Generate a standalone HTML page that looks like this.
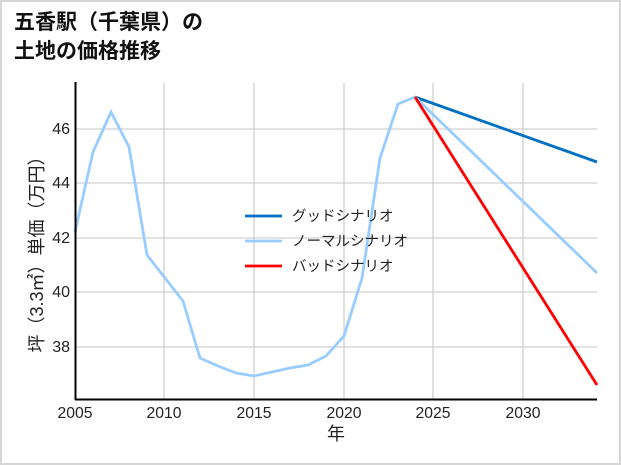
<!DOCTYPE html>
<html><head><meta charset="utf-8"><style>
body{margin:0;background:#fff}
.f{position:absolute;left:0;top:0;width:617px;height:461px;border:2px solid #d6d6d6;background:#fff}
</style></head><body>
<div class="f"></div>
<svg width="621" height="465" style="position:absolute;left:0;top:0" font-family="'Liberation Sans Narrow','Liberation Sans','Noto Sans CJK JP',sans-serif">
<text x="14" y="29" font-size="21" font-weight="bold" font-family="'Liberation Sans','Noto Sans CJK JP',sans-serif" fill="#111">五香駅（千葉県）の</text>
<text x="14" y="58" font-size="21" font-weight="bold" font-family="'Liberation Sans','Noto Sans CJK JP',sans-serif" fill="#111">土地の価格推移</text>
<g stroke="#d0d0d0" stroke-width="1.3">
<line x1="164" y1="83" x2="164" y2="400"/><line x1="254" y1="83" x2="254" y2="400"/><line x1="344" y1="83" x2="344" y2="400"/><line x1="433" y1="83" x2="433" y2="400"/><line x1="523" y1="83" x2="523" y2="400"/>
<line x1="75" y1="129" x2="597" y2="129"/><line x1="75" y1="183" x2="597" y2="183"/><line x1="75" y1="238" x2="597" y2="238"/><line x1="75" y1="292" x2="597" y2="292"/><line x1="75" y1="347" x2="597" y2="347"/>
</g>
<polyline fill="none" stroke="#99ccff" stroke-width="2.8" points="75,232 93,152 111,112 129,147 147,255 165,278 183,301 200,358 218,366 236,373 254,376 272,372 290,368 308,365 326,356 344,336 362,278 380,158 398,104 415,97"/>
<line x1="415" y1="97" x2="597" y2="162" stroke="#0070c0" stroke-width="2.8"/>
<line x1="415" y1="97" x2="597" y2="273" stroke="#99ccff" stroke-width="2.8"/>
<line x1="415" y1="97" x2="597" y2="385" stroke="#ff0000" stroke-width="2.8"/>
<line x1="75.5" y1="82" x2="75.5" y2="400" stroke="#000" stroke-width="2"/>
<line x1="75" y1="399.5" x2="597" y2="399.5" stroke="#000" stroke-width="2"/>
<g font-size="16" fill="#222" text-anchor="middle" transform="scale(1,1)">
<text x="75" y="418" textLength="35" lengthAdjust="spacingAndGlyphs">2005</text><text x="164" y="418" textLength="35" lengthAdjust="spacingAndGlyphs">2010</text><text x="254" y="418" textLength="35" lengthAdjust="spacingAndGlyphs">2015</text><text x="344" y="418" textLength="35" lengthAdjust="spacingAndGlyphs">2020</text><text x="433" y="418" textLength="35" lengthAdjust="spacingAndGlyphs">2025</text><text x="523" y="418" textLength="35" lengthAdjust="spacingAndGlyphs">2030</text>
</g>
<g font-size="16" fill="#222" text-anchor="end">
<text x="70" y="134">46</text><text x="70" y="188">44</text><text x="70" y="243">42</text><text x="70" y="297">40</text><text x="70" y="352">38</text>
</g>
<text x="336" y="440" font-size="18" text-anchor="middle" fill="#222" font-family="'Liberation Sans','Noto Sans CJK JP',sans-serif">年</text>
<text transform="translate(43,250) rotate(-90)" font-size="18" text-anchor="middle" fill="#222" font-family="'Liberation Sans','Noto Sans CJK JP',sans-serif">坪（3.3㎡）単価（万円）</text>
<line x1="245" y1="216" x2="282" y2="216" stroke="#0070c0" stroke-width="2.8"/>
<line x1="245" y1="241" x2="282" y2="241" stroke="#99ccff" stroke-width="2.8"/>
<line x1="245" y1="266" x2="282" y2="266" stroke="#ff0000" stroke-width="2.8"/>
<g font-size="14.5" fill="#222" font-family="'Liberation Sans','Noto Sans CJK JP',sans-serif">
<text x="292" y="221">グッドシナリオ</text><text x="292" y="246">ノーマルシナリオ</text><text x="292" y="271">バッドシナリオ</text>
</g>
</svg>
</body></html>
